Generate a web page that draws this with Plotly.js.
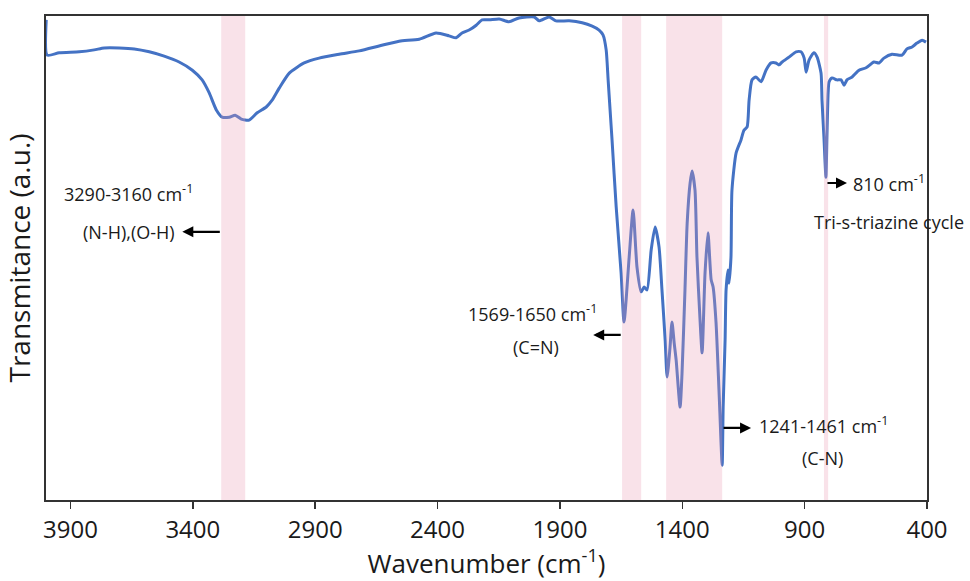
<!DOCTYPE html>
<html>
<head>
<meta charset="utf-8">
<script src="https://cdn.plot.ly/plotly-3.0.1.min.js"></script>
<style>
  html, body { margin: 0; padding: 0; background: #ffffff; }
  #chart { width: 970px; height: 581px; }
</style>
</head>
<body>
<div id="chart"></div>
<script>
// FTIR spectrum (wavenumber, cm^-1) and transmittance (a.u., relative 0-100)
const wavenumber = [3999, 3995, 3946, 3864, 3803, 3762, 3701, 3639, 3578, 3517, 3456, 3402, 3362, 3333, 3304, 3280, 3251, 3227, 3202, 3170, 3137, 3100, 3076, 3047, 3006, 2945, 2884, 2802, 2720, 2639, 2557, 2475, 2406, 2353, 2324, 2300, 2271, 2242, 2218, 2189, 2148, 2108, 2067, 2005, 1985, 1944, 1916, 1862, 1809, 1768, 1740, 1724, 1711, 1703, 1695, 1687, 1670, 1650, 1638, 1617, 1601, 1585, 1568, 1556, 1544, 1527, 1511, 1495, 1483, 1470, 1462, 1450, 1442, 1433, 1425, 1409, 1401, 1389, 1380, 1368, 1360, 1348, 1340, 1327, 1319, 1307, 1295, 1282, 1274, 1262, 1250, 1237, 1233, 1225, 1221, 1213, 1209, 1201, 1197, 1180, 1160, 1148, 1135, 1127, 1115, 1099, 1078, 1058, 1037, 1017, 1005, 992, 964, 935, 915, 902, 894, 882, 862, 849, 833, 829, 821, 813, 809, 804, 800, 788, 768, 751, 739, 727, 706, 678, 649, 617, 596, 576, 543, 502, 482, 461, 441, 420, 404];
const transmittance = [99.2, 91.9, 92.4, 92.6, 93.0, 93.4, 93.4, 93.2, 92.6, 91.7, 90.5, 88.8, 86.8, 84.1, 80.6, 79.1, 79.1, 79.5, 78.7, 78.5, 80.0, 81.2, 82.6, 85.1, 88.2, 90.3, 91.3, 92.1, 92.8, 93.8, 94.8, 95.2, 96.5, 95.9, 95.5, 96.5, 97.1, 98.1, 99.2, 99.2, 99.4, 98.8, 99.6, 99.8, 99.0, 99.8, 99.0, 99.0, 98.6, 97.9, 97.1, 96.1, 93.0, 86.8, 80.6, 74.4, 60.5, 46.9, 36.8, 50.2, 59.9, 48.1, 43.0, 44.0, 43.4, 51.7, 56.4, 52.3, 43.4, 33.1, 25.4, 31.6, 36.8, 32.4, 28.9, 19.2, 26.2, 43.4, 57.2, 65.5, 68.0, 64.0, 50.2, 36.8, 30.4, 46.9, 55.2, 45.5, 44.0, 36.6, 22.7, 7.2, 19.2, 33.1, 43.4, 47.5, 44.8, 50.2, 64.0, 71.7, 74.4, 76.4, 77.1, 82.6, 86.8, 87.4, 86.4, 88.8, 90.3, 90.3, 89.9, 90.5, 91.5, 92.6, 92.6, 91.3, 88.4, 90.9, 92.4, 91.5, 88.2, 82.6, 74.8, 66.7, 74.8, 84.1, 86.4, 87.2, 86.8, 86.8, 85.7, 86.8, 87.4, 88.8, 89.3, 90.5, 90.3, 91.3, 92.1, 91.9, 93.2, 93.6, 94.4, 95.0, 94.6];

// Highlighted absorption bands (cm^-1)
const bandStart = [3284, 1646, 1466, 821];
const bandEnd   = [3186, 1568, 1237, 804];

// Axis ticks
const tickValues = [3900, 3400, 2900, 2400, 1900, 1400, 900, 400];
const tickLabels = ['3900', '3400', '2900', '2400', '1900', '1400', '900', '400'];

const FONT = 'Open Sans, Noto Sans, Liberation Sans, sans-serif';
const LABEL_FONT = { family: FONT, size: 18, color: '#1a1a1a' };

const shapes = bandStart.map((s, i) => ({
  type: 'rect', xref: 'x', yref: 'paper',
  x0: s, x1: bandEnd[i], y0: 0, y1: 1,
  fillcolor: 'rgba(232,150,175,0.28)', line: { width: 0 }, layer: 'above'
}));

function arrow(xHead, yHead, ax) {
  return { x: xHead, y: yHead, xref: 'x', yref: 'y', text: '', showarrow: true,
           ax: ax, ay: 0, arrowhead: 2, arrowsize: 1, arrowwidth: 2.2, arrowcolor: '#000000' };
}
function label(x, y, txt) {
  return { x: x, y: y, xref: 'x', yref: 'y', text: txt, showarrow: false,
           font: LABEL_FONT, xanchor: 'center', yanchor: 'middle' };
}

const annotations = [
  label(3664, 63.4, '3290-3160 cm<sup>-1</sup>'),
  label(3660, 55.4, '(N-H),(O-H)'),
  arrow(3443, 55.4, 39),
  label(2014, 38.6, '1569-1650 cm<sup>-1</sup>'),
  label(1997, 31.6, '(C=N)'),
  arrow(1764, 34.1, 29),
  label(821, 15.5, '1241-1461 cm<sup>-1</sup>'),
  label(825, 8.7, '(C-N)'),
  arrow(1119, 14.9, -29),
  label(555, 65.5, '810 cm<sup>-1</sup>'),
  label(555, 57.4, 'Tri-s-triazine cycle'),
  arrow(727, 65.5, -21)
];

const trace = {
  x: wavenumber, y: transmittance, type: 'scatter', mode: 'lines',
  line: { color: '#4472C4', width: 3, shape: 'spline', smoothing: 0.6 },
  hoverinfo: 'skip'
};

const layout = {
  width: 970, height: 581,
  margin: { l: 46, r: 43, t: 16, b: 81 },
  paper_bgcolor: '#ffffff', plot_bgcolor: '#ffffff',
  showlegend: false,
  font: { family: FONT, color: '#1a1a1a' },
  xaxis: {
    range: [4000, 400],
    tickvals: tickValues, ticktext: tickLabels,
    ticks: 'outside', ticklen: 7, tickwidth: 1.5, tickcolor: '#333333',
    tickfont: { family: FONT, size: 24, color: '#1a1a1a' },
    showline: true, linecolor: '#333333', linewidth: 2, mirror: true,
    showgrid: false, zeroline: false, automargin: false,
    title: { text: 'Wavenumber (cm<sup>-1</sup>)', font: { family: FONT, size: 26, color: '#1a1a1a' }, standoff: 14 }
  },
  yaxis: {
    range: [0, 100],
    showticklabels: false, ticks: '',
    showline: true, linecolor: '#333333', linewidth: 2, mirror: true,
    showgrid: false, zeroline: false, automargin: false,
    title: { text: 'Transmitance (a.u.)', font: { family: FONT, size: 28, color: '#1a1a1a' }, standoff: 6 }
  },
  shapes: shapes,
  annotations: annotations
};

Plotly.newPlot('chart', [trace], layout, { displayModeBar: false, staticPlot: true });
</script>
</body>
</html>
